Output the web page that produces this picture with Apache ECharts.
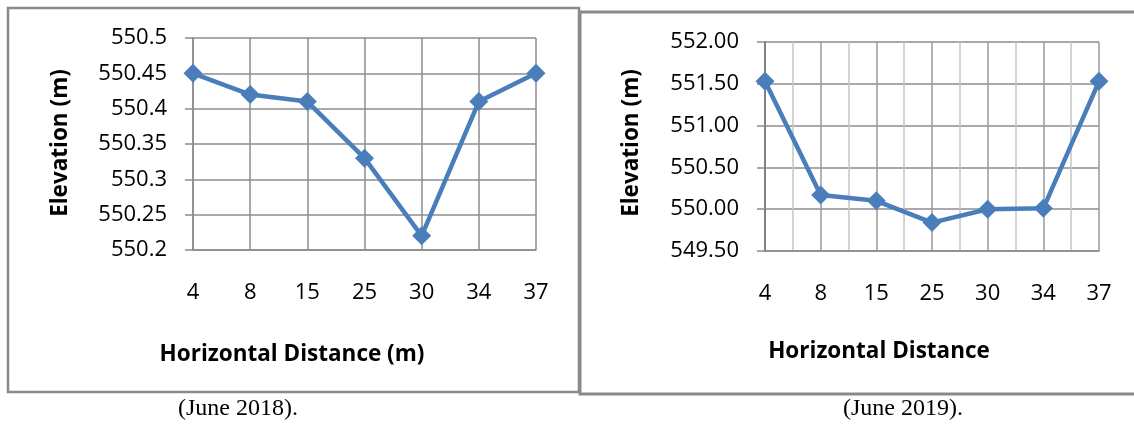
<!DOCTYPE html>
<html>
<head>
<meta charset="utf-8">
<script src="https://cdn.jsdelivr.net/npm/echarts@6/dist/echarts.min.js"></script>
<style>
html,body{margin:0;padding:0;background:#fff;}
#chart{width:1134px;height:426px;}
</style>
</head>
<body>
<div id="chart"></div>
<script>
// Data
const categories = ['4', '8', '15', '25', '30', '34', '37'];
const elevation2018 = [550.45, 550.42, 550.41, 550.33, 550.22, 550.41, 550.45];
const elevation2019 = [551.53, 550.17, 550.10, 549.84, 550.00, 550.01, 551.53];
const yTicks2018 = [550.2, 550.25, 550.3, 550.35, 550.4, 550.45, 550.5];
const yTicks2019 = [549.5, 550.0, 550.5, 551.0, 551.5, 552.0];
const xTitle2018 = 'Horizontal Distance (m)';
const xTitle2019 = 'Horizontal Distance';
const yTitle = 'Elevation (m)';
const caption2018 = '(June 2018).';
const caption2019 = '(June 2019).';

const chart = echarts.init(document.getElementById('chart'), null, {renderer: 'canvas'});
const blue = '#4a7ebb';
const gridGray = '#8c8c8c';
const tickFont = {fontFamily: 'Open Sans', fontSize: 22, color: '#000'};
const titleFont = {fontFamily: 'Open Sans', fontSize: 22.5, fontWeight: 'bold', fill: '#000'};
const captionFont = {fontFamily: 'Liberation Serif', fontSize: 24, fill: '#000'};

const option = {
  animation: false,
  backgroundColor: '#fff',
  grid: [
    {left: 193, top: 38, width: 343, height: 212},
    {left: 765, top: 42, width: 334, height: 209}
  ],
  xAxis: [
    {
      type: 'category', gridIndex: 0, data: categories, boundaryGap: false,
      axisLine: {lineStyle: {color: gridGray, width: 1.5}},
      axisTick: {show: false},
      axisLabel: Object.assign({margin: 32}, tickFont),
      splitLine: {show: true, lineStyle: {color: gridGray, width: 1.5}}
    },
    {
      type: 'value', gridIndex: 1, min: 0, max: 6, interval: 0.5,
      axisLine: {lineStyle: {color: gridGray, width: 1.5}},
      axisTick: {show: false},
      axisLabel: Object.assign({
        margin: 32, showMinLabel: true, showMaxLabel: true,
        formatter: v => (Number.isInteger(v) ? categories[v] : '')
      }, tickFont),
      splitLine: {show: true, lineStyle: {color: ['#9a9a9a', '#c4c4c4'], width: 1.5}}
    }
  ],
  yAxis: [
    {
      type: 'value', gridIndex: 0,
      min: yTicks2018[0], max: yTicks2018[yTicks2018.length - 1], interval: 0.05,
      axisLine: {show: true, lineStyle: {color: gridGray, width: 1.5}},
      axisTick: {show: true, length: 8, lineStyle: {color: gridGray, width: 1.5}},
      axisLabel: Object.assign({margin: 26, formatter: v => String(parseFloat(v.toFixed(2)))}, tickFont),
      splitLine: {show: true, lineStyle: {color: gridGray, width: 1.5}}
    },
    {
      type: 'value', gridIndex: 1,
      min: yTicks2019[0], max: yTicks2019[yTicks2019.length - 1], interval: 0.5,
      axisLine: {show: true, lineStyle: {color: '#808080', width: 2}},
      axisTick: {show: true, length: 8, lineStyle: {color: gridGray, width: 1.5}},
      axisLabel: Object.assign({margin: 26, formatter: v => v.toFixed(2)}, tickFont),
      splitLine: {show: true, lineStyle: {color: gridGray, width: 1.5}}
    }
  ],
  series: [
    {
      type: 'line', xAxisIndex: 0, yAxisIndex: 0,
      data: elevation2018,
      symbol: 'diamond', symbolSize: 19,
      lineStyle: {color: blue, width: 4.5},
      itemStyle: {color: blue}
    },
    {
      type: 'line', xAxisIndex: 1, yAxisIndex: 1,
      data: elevation2019.map((v, i) => [i, v]),
      symbol: 'diamond', symbolSize: 19,
      lineStyle: {color: blue, width: 4.5},
      itemStyle: {color: blue}
    }
  ],
  graphic: [
    {type: 'rect', shape: {x: 8, y: 8, width: 571, height: 384},
     style: {fill: 'none', stroke: '#8a8a8a', lineWidth: 2.5}, z: 0},
    {type: 'rect', shape: {x: 580, y: 12, width: 600, height: 382},
     style: {fill: 'none', stroke: '#8a8a8a', lineWidth: 3}, z: 0},
    {type: 'text', x: 292, y: 355,
     style: Object.assign({text: xTitle2018, textAlign: 'center', textVerticalAlign: 'middle'}, titleFont)},
    {type: 'text', x: 879, y: 352,
     style: Object.assign({text: xTitle2019, textAlign: 'center', textVerticalAlign: 'middle'}, titleFont)},
    {type: 'text', x: 61, y: 143, rotation: Math.PI / 2,
     style: Object.assign({text: yTitle, textAlign: 'center', textVerticalAlign: 'middle'}, titleFont)},
    {type: 'text', x: 632, y: 143, rotation: Math.PI / 2,
     style: Object.assign({text: yTitle, textAlign: 'center', textVerticalAlign: 'middle'}, titleFont)},
    {type: 'text', x: 238, y: 409,
     style: Object.assign({text: caption2018, textAlign: 'center', textVerticalAlign: 'middle'}, captionFont)},
    {type: 'text', x: 903, y: 409,
     style: Object.assign({text: caption2019, textAlign: 'center', textVerticalAlign: 'middle'}, captionFont)}
  ]
};
chart.setOption(option);
</script>
</body>
</html>
